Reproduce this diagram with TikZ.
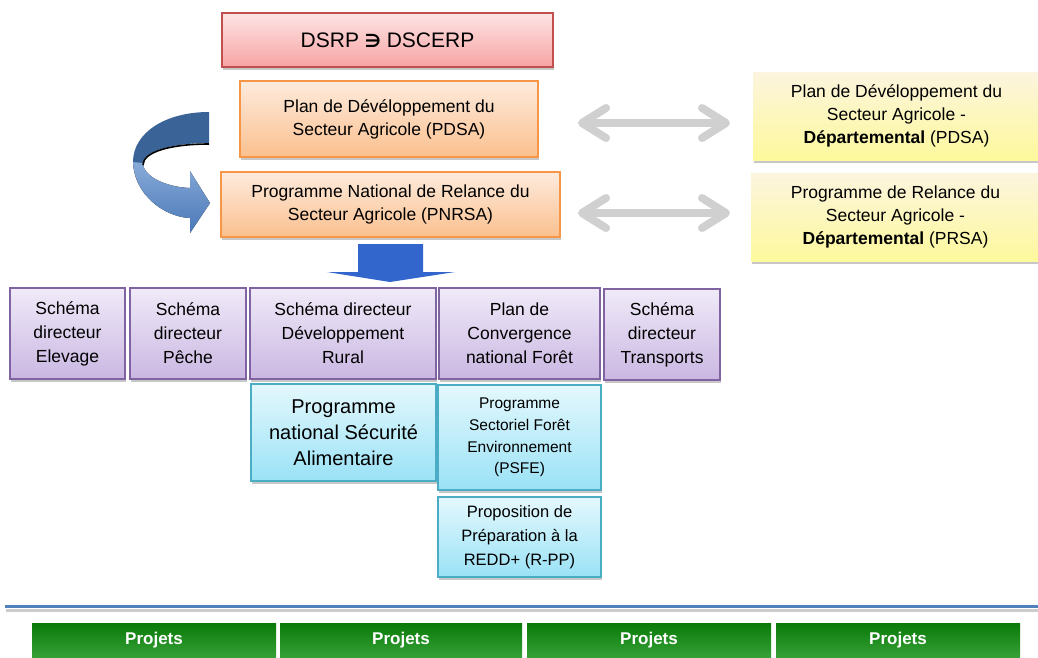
\documentclass[tikz,border=0pt]{standalone}
\usepackage{fontspec}
\setmainfont{Liberation Sans}
\newfontfamily\symfont{DejaVu Sans}
\usetikzlibrary{arrows.meta,shadows}
\definecolor{pinkT}{HTML}{FDE4E4}
\definecolor{pinkBo}{HTML}{F7A3A3}
\definecolor{pinkD}{HTML}{C0504D}
\definecolor{orT}{HTML}{FDEBDD}
\definecolor{orBo}{HTML}{FBC08E}
\definecolor{orD}{HTML}{F79646}
\definecolor{yeT}{HTML}{FCF4DE}
\definecolor{yeBo}{HTML}{FDF99C}
\definecolor{puT}{HTML}{F0EAF8}
\definecolor{puBo}{HTML}{CAB7E2}
\definecolor{puD}{HTML}{8064A2}
\definecolor{cyT}{HTML}{E4F8FD}
\definecolor{cyBo}{HTML}{9AE2F6}
\definecolor{cyD}{HTML}{4BACC6}
\definecolor{grT}{HTML}{097A09}
\definecolor{grBo}{HTML}{36A036}
\definecolor{arrGray}{HTML}{D0D0D0}
\definecolor{dnBlue}{HTML}{3366CC}
\definecolor{cuDark}{HTML}{3A6497}
\definecolor{cuLightT}{HTML}{8AACD9}
\definecolor{cuLightB}{HTML}{4A78B8}
\definecolor{lineBlue}{HTML}{4F81BD}
\newcommand\fsz[2]{\fontsize{#1}{#2}\selectfont}
\tikzset{
  base/.style={rectangle, inner sep=2pt, align=center, text=black, line width=1.2pt,
    font=\fsz{17.5}{23}},
  shad/.style={drop shadow={shadow xshift=1pt,shadow yshift=-3pt,fill=black!22,opacity=1}},
  pinkbox/.style={base, shad, draw=pinkD, top color=pinkT, bottom color=pinkBo},
  orbox/.style={base, shad, draw=orD, top color=orT, bottom color=orBo},
  yebox/.style={base, shad, draw=none, top color=yeT, bottom color=yeBo},
  pubox/.style={base, shad, draw=puD, top color=puT, bottom color=puBo, font=\fsz{17.5}{24}},
  cybox/.style={base, shad, draw=cyD, top color=cyT, bottom color=cyBo},
  grbox/.style={rectangle, draw=none, top color=grT, bottom color=grBo, text=white,
    font=\fsz{17}{20}\bfseries},
  dblarrow/.style={draw=arrGray, line width=8pt,
    {Straight Barb[length=24pt,width=30pt,line cap=round,line join=round]}-{Straight Barb[length=24pt,width=30pt,line cap=round,line join=round]}},
}
\begin{document}
\begin{tikzpicture}[x=1pt,y=-1pt]
\useasboundingbox (0,0) rectangle (1038,657);

% top boxes
\node[pinkbox, minimum width=331pt, minimum height=54pt] (dsrp) at (387.5,40)
  {\fsz{21}{25}DSRP {\symfont\bfseries\fontsize{18}{18}\selectfont ∋} DSCERP};
\node[orbox, minimum width=298pt, minimum height=76pt] (pdsa) at (389,119)
  {Plan de Dévéloppement du\\Secteur Agricole (PDSA)};
\node[orbox, minimum width=339pt, minimum height=65pt] (pnrsa) at (390.5,204.5)
  {Programme National de Relance du\\Secteur Agricole (PNRSA)};

% right boxes
\node[yebox, minimum width=287pt, minimum height=88pt] (ye1) at (896.5,116)
  {Plan de Dévéloppement du\\Secteur Agricole -\\\textbf{Départemental} (PDSA)};
\node[yebox, minimum width=289pt, minimum height=88pt] (ye2) at (895.5,217)
  {Programme de Relance du\\Secteur Agricole -\\\textbf{Départemental} (PRSA)};

% double arrows
\coordinate (a1l) at (578,123);
\coordinate (a1r) at (730,123);
\coordinate (a2l) at (578,213);
\coordinate (a2r) at (730,213);
\draw[dblarrow] (a1l) -- (a1r);
\draw[dblarrow] (a2l) -- (a2r);

% curved arrow
\fill[top color=cuLightT, bottom color=cuLightB]
  (133,160) .. controls (133,195) and (165,217) .. (190,218)
  -- (190,233) -- (210,203) -- (190,171) -- (190,188)
  .. controls (165,187) and (143,176) .. (143,163) -- cycle;
\fill[cuDark]
  (209,112) .. controls (165,112) and (133,133) .. (133,162)
  -- (143,163) .. controls (143,152) and (170,143) .. (209,143) -- cycle;
\draw[black, line width=1.6pt] (143,165) .. controls (143,152) and (170,144) .. (209,144);

% down arrow
\fill[dnBlue] (358,244) -- (423,244) -- (423,272) -- (455,272) -- (390,282)
  -- (327,272) -- (358,272) -- cycle;

% purple row
\node[pubox, minimum width=115pt, minimum height=91pt] (elev) at (67.5,333.5)
  {Schéma\\directeur\\Elevage};
\node[pubox, minimum width=116pt, minimum height=91pt] (peche) at (188,333.5)
  {Schéma\\directeur\\Pêche};
\node[pubox, minimum width=186pt, minimum height=91pt] (rural) at (343,333.5)
  {Schéma directeur\\Développement\\Rural};
\node[pubox, minimum width=161pt, minimum height=91pt] (foret) at (519.5,333.5)
  {Plan de\\Convergence\\national Forêt};
\node[pubox, minimum width=116pt, minimum height=91pt] (transp) at (662,334.5)
  {Schéma\\directeur\\Transports};

% cyan boxes
\node[cybox, minimum width=185pt, minimum height=97pt, font=\fsz{20}{26}] (pnsa) at (343.5,432.5)
  {Programme\\national Sécurité\\Alimentaire};
\node[cybox, minimum width=163pt, minimum height=105pt, font=\fsz{15.5}{21.7}] (psfe) at (519.5,437.5)
  {Programme\\Sectoriel Forêt\\Environnement\\(PSFE)};
\node[cybox, minimum width=163pt, minimum height=80pt, font=\fsz{16.5}{24}] (rpp) at (519.5,537)
  {Proposition de\\Préparation à la\\REDD+ (R-PP)};

% separator line
\draw[black!20, line width=3pt] (6,610) -- (1038,610);
\draw[lineBlue, line width=3.5pt] (5,606.5) -- (1038,606.5);

% green bars
\node[grbox, minimum width=244pt, minimum height=34pt] (p1) at (154,640) {Projets};
\node[grbox, minimum width=242pt, minimum height=34pt] (p2) at (401,640) {Projets};
\node[grbox, minimum width=244pt, minimum height=34pt] (p3) at (649,640) {Projets};
\node[grbox, minimum width=244pt, minimum height=34pt] (p4) at (898,640) {Projets};
\end{tikzpicture}
\end{document}
